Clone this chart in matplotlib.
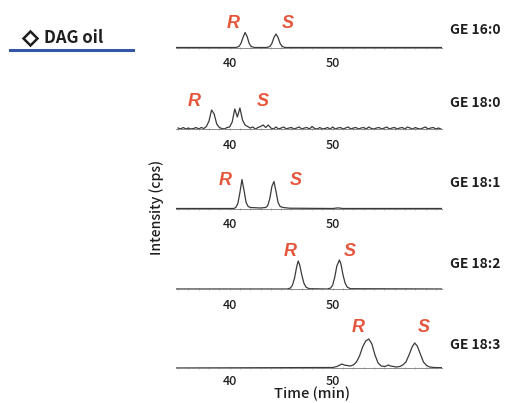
import numpy as np
import matplotlib
matplotlib.use('Agg')
import matplotlib.pyplot as plt
import matplotlib.transforms as mtransforms

# --- data (intensity in arbitrary units) ---
panel_names = ['GE 16:0', 'GE 18:0', 'GE 18:1', 'GE 18:2', 'GE 18:3']

t_160 = [34.8, 40.6, 40.9, 41.1, 41.3, 41.5, 41.7, 41.9, 42.1, 42.4,
         43.6, 43.9, 44.1, 44.3, 44.5, 44.7, 44.9, 45.1, 45.4, 60.6]
i_160 = [0, 0, 1, 4, 10, 15, 11, 4, 1, 0,
         0, 1, 4, 10, 13.5, 10, 4, 1, 0, 0]

# GE 18:0 was recorded on a 0.25 min grid, noisy trace
t_180 = np.arange(35.0, 60.75, 0.25)
i_180 = [1, 0, 1.5, 0, 1, 0, 0.5, 1.5, 0, 1.5,
         0.5, 2.5, 8, 19, 15, 5, 1.5, 0.5, 0, 1.5,
         2, 7, 20, 12, 21, 9, 4, 2.5, 1, 2,
         0, 1.5, 2.5, 4, 1.5, 4, 1, 0, 2, 0,
         1, 2, 0, 1, 1.5, 0, 1, 2, 0, 1,
         1.5, 0, 2.5, 0.5, 0, 1.5, 0, 0.5, 1.5, 0,
         2, 0, 1, 1.5, 0, 1, 2, 0, 1, 1.5,
         0, 1, 1.5, 0, 2, 0.5, 0, 1, 1.5, 0,
         1, 2, 0, 1, 1.5, 0, 1, 1.5, 0, 2,
         1, 0, 1.5, 0.5, 0, 1, 2, 0, 1, 1.5,
         0, 1, 0]

t_181 = [34.8, 40.4, 40.6, 40.8, 41.0, 41.2, 41.4, 41.6, 41.8, 42.0, 42.4, 43.0,
         43.5, 43.7, 43.9, 44.1, 44.3, 44.5, 44.7, 44.9, 45.2, 45.8, 50.0, 50.5,
         51.0, 60.6]
i_181 = [0, 0, 1, 5, 16, 29, 18, 6, 2, 1, 0.8, 0.5,
         1, 3, 10, 22, 27, 17, 6, 2, 1, 0.3, 0, 0.6,
         0, 0]

t_182 = [34.8, 45.6, 45.9, 46.1, 46.3, 46.5, 46.65, 46.8, 47.0, 47.2, 47.4, 47.7,
         49.5, 49.8, 50.0, 50.2, 50.4, 50.65, 50.8, 51.0, 51.2, 51.4, 51.7, 60.6]
i_182 = [0, 0, 1, 4, 11, 22, 28, 24, 14, 6, 2, 0.3,
         0, 1, 4, 12, 23, 29, 25, 14, 6, 2, 0.3, 0]

t_183 = [34.8, 50.0, 50.4, 50.7, 50.9, 51.1, 51.4, 51.7, 52.0, 52.3, 52.6, 52.9,
         53.2, 53.5, 53.8, 54.1, 54.4, 54.7, 55.0, 55.2, 55.4, 55.6, 55.9, 56.2,
         56.5, 56.8, 57.1, 57.4, 57.7, 57.95, 58.2, 58.5, 58.8, 59.1, 59.4, 59.8,
         60.6]
i_183 = [0, 0.5, 1.5, 3, 4, 3, 2.5, 2, 3, 6, 12, 21,
         27, 29, 24, 13, 5, 2, 1.5, 2, 3, 2, 1.5, 1,
         1.5, 3, 6, 13, 21, 25, 22, 14, 6, 2.5, 1, 0.5,
         0.3]

times = [t_160, t_180, t_181, t_182, t_183]
intens = [i_160, i_180, i_181, i_182, i_183]

# --- layout ---
W, H = 523, 403
BASELINES = [47.5, 129, 208.5, 289, 368]      # pixel rows of each baseline
X0, X1 = 176, 442
PANEL_H = 45
RS_POS = [((40.3, 24), (45.6, 24)),
          ((36.6, 27), (43.2, 27)),
          ((39.6, 28), (46.4, 28)),
          ((45.9, 37), (51.7, 37)),
          ((52.5, 40), (58.8, 40))]
NAME_Y = [17.5, 26, 25.5, 25, 23]

FONT = ['Noto Sans CJK JP', 'DejaVu Sans']
RED = '#e5553b'
INK = '#1e1e1e'

fig = plt.figure(figsize=(W / 100, H / 100), dpi=100)

for k in range(5):
    b = BASELINES[k]
    ax = fig.add_axes([X0 / W, 1 - b / H, (X1 - X0) / W, PANEL_H / H])
    ax.plot(times[k], intens[k], color='#3a3a3a', lw=0.9)
    ax.set_xlim(34.8, 60.6)
    ax.set_ylim(0, PANEL_H)
    for s in ['top', 'right', 'left']:
        ax.spines[s].set_visible(False)
    ax.spines['bottom'].set_color('#8a8a8a')
    ax.spines['bottom'].set_linewidth(0.7)
    ax.set_yticks([])
    ax.set_xticks([40, 50])
    ax.set_xticks(np.arange(35, 61, 1), minor=True)
    ax.tick_params(axis='x', which='both', direction='inout', length=2,
                   width=0.5, color='#8a8a8a', pad=6 if k < 4 else 4,
                   labelsize=9, labelcolor=INK)
    for lab in ax.get_xticklabels():
        lab.set_family(FONT)
        lab.set_weight('medium')
    ax.patch.set_alpha(0)

    (rx, ry), (sx, sy) = RS_POS[k]
    ax.text(rx, ry, 'R', color=RED, fontsize=13, style='italic', weight='bold',
            family='Liberation Sans', ha='center', va='center', clip_on=False)
    ax.text(sx, sy, 'S', color=RED, fontsize=13, style='italic', weight='bold',
            family='Liberation Sans', ha='center', va='center', clip_on=False)

    trans = mtransforms.blended_transform_factory(ax.transAxes, ax.transData)
    ax.text(1.03, NAME_Y[k], panel_names[k], transform=trans, fontsize=10,
            family=FONT, weight='bold', ha='left', va='center', color=INK)

fig.text(312 / W, 1 - 394 / H, 'Time (min)', family=FONT, fontsize=10.5,
         weight='medium', ha='center', va='center', color=INK)

fig.text(157 / W, 1 - 207 / H, 'Intensity (cps)', rotation=90, family=FONT,
         fontsize=10, weight='medium', ha='center', va='center', color=INK)

# legend-like tag at the upper left
fig.add_artist(plt.Line2D([30 / W], [1 - 38 / H], marker='D', markersize=7,
                          markerfacecolor='white', markeredgecolor=INK,
                          markeredgewidth=1.8, linestyle='none'))
fig.text(44 / W, 1 - 38 / H, 'DAG oil', family=FONT, fontsize=12,
         weight='bold', ha='left', va='center', color=INK)
fig.add_artist(plt.Line2D([10 / W, 133 / W], [1 - 50 / H, 1 - 50 / H],
                          color='#3656a6', lw=2.2))

fig.savefig('out.png', dpi=100)
